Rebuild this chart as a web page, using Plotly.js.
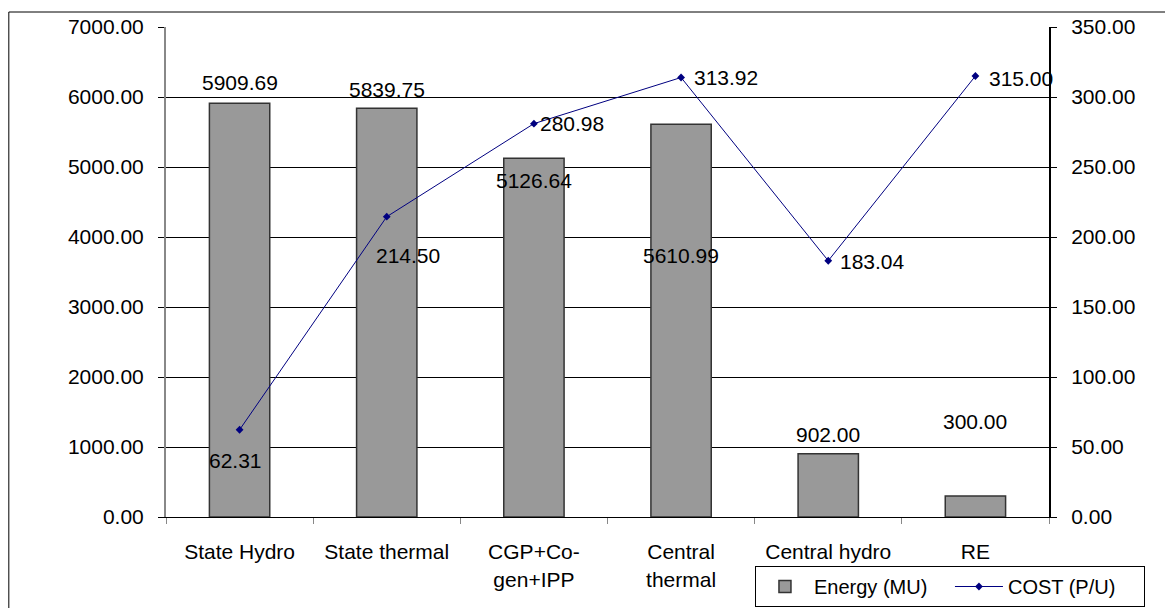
<!DOCTYPE html>
<html><head><meta charset="utf-8">
<script src="https://cdn.plot.ly/plotly-3.0.1.min.js"></script>
<style>html,body{margin:0;padding:0;background:#fff}#chart{width:1165px;height:608px}</style>
</head><body><div id="chart"></div>
<script>
const categories = ["State Hydro","State thermal","CGP+Co-<br>gen+IPP","Central<br>thermal","Central hydro","RE"];
const energy = [5909.69, 5839.75, 5126.64, 5610.99, 902.00, 300.00];
const cost = [62.31, 214.50, 280.98, 313.92, 183.04, 315.00];
const energyTicks = [0,1000,2000,3000,4000,5000,6000,7000];
const costTicks = [0,50,100,150,200,250,300,350];
// label offsets (pixels) for data labels
const energyLabelShift = [[0,21],[0,19],[0,-22],[0,-131],[0,19],[0,75]];
const costLabelShift = [[-4,-31],[21,-39],[38,0],[45,0],[44,-1],[46,-2]];

const F = "Liberation Sans, Arial, sans-serif";
const fs = 21;

const traces = [
  {type:'bar', name:'Energy (MU)', x:categories, y:energy, width:0.41,
   marker:{color:'#999999', line:{color:'#333333', width:1.5}}, hoverinfo:'none'},
  {type:'scatter', mode:'lines+markers', name:'COST (P/U)', x:categories, y:cost, yaxis:'y2',
   line:{color:'#000080', width:1}, marker:{symbol:'diamond', size:6, color:'#000080'}, hoverinfo:'none'}
];

const annotations = [];
energy.forEach((v,i)=>annotations.push({x:categories[i], y:v, xref:'x', yref:'y', text:v.toFixed(2), showarrow:false,
  xshift:energyLabelShift[i][0], yshift:energyLabelShift[i][1], font:{family:F,size:fs,color:'#000'}}));
cost.forEach((v,i)=>annotations.push({x:categories[i], y:v, xref:'x', yref:'y2', text:v.toFixed(2), showarrow:false,
  xshift:costLabelShift[i][0], yshift:costLabelShift[i][1], font:{family:F,size:fs,color:'#000'}}));

const layout = {
  width:1165, height:608,
  margin:{l:166, r:116, t:27, b:91, autoexpand:false},
  paper_bgcolor:'#fff', plot_bgcolor:'#fff',
  font:{family:F, size:fs, color:'#000'},
  showlegend:true,
  legend:{orientation:'h', x:0.667, y:-0.1, xanchor:'left', yanchor:'top',
    bordercolor:'#000', borderwidth:1, font:{family:F,size:20,color:'#000'}, bgcolor:'#fff',
    entrywidth:131, itemwidth:48},
  xaxis:{type:'category', range:[-0.5,5.5], showline:true, linecolor:'#000', linewidth:1, ticks:'outside', ticklen:6,
    tickcolor:'#888', tickson:'boundaries', showgrid:false, tickfont:{family:F,size:fs}, fixedrange:true,
    ticklabelstandoff:16, automargin:false},
  yaxis:{range:[0,7000], tickvals:energyTicks, ticktext:energyTicks.map(v=>v.toFixed(2)),
    showline:true, linecolor:'#888', linewidth:2, ticks:'outside', ticklen:6, tickcolor:'#000',
    showgrid:true, gridcolor:'#000', gridwidth:1, zeroline:false, ticklabelstandoff:10,
    tickfont:{family:F,size:fs}, fixedrange:true, automargin:false},
  yaxis2:{range:[0,350], tickvals:costTicks, ticktext:costTicks.map(v=>v.toFixed(2)),
    overlaying:'y', side:'right', showline:true, linecolor:'#000', linewidth:2, ticks:'outside', ticklen:6,
    tickcolor:'#000', showgrid:false, zeroline:false, ticklabelstandoff:10, tickfont:{family:F,size:fs}, fixedrange:true, automargin:false},
  annotations:annotations,
  shapes:[{type:'rect', xref:'paper', yref:'paper', x0:-0.178, x1:1.14, y0:-0.25, y1:1.0306,
    line:{color:'#000', width:1}, fillcolor:'rgba(0,0,0,0)', layer:'below'}],
  bargap:0.59
};
Plotly.newPlot('chart', traces, layout, {displayModeBar:false, staticPlot:true});
</script></body></html>
